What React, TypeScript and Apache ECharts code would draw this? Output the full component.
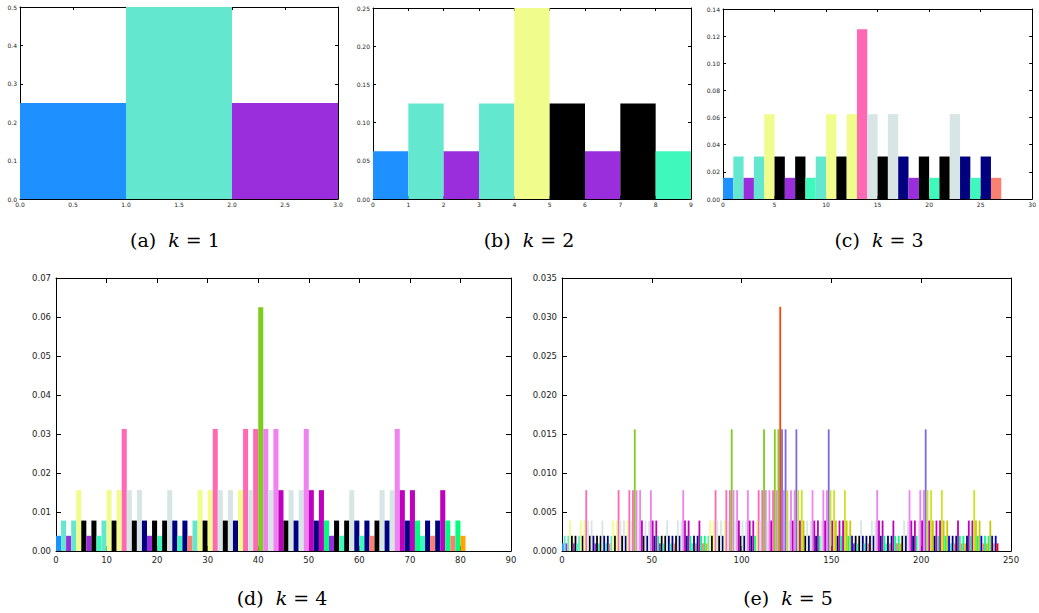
import React, { useEffect, useRef } from "react";
import * as echarts from "echarts";

// ---- data (bar heights, one bar per bin, bin i spans [i, i+1]) ----
const k1Values = [0.25, 0.5, 0.25];
const k2Values = [0.0625, 0.125, 0.0625, 0.125, 0.25, 0.125, 0.0625, 0.125, 0.0625];
const k3Values = [
  0.0156, 0.0313, 0.0156, 0.0313, 0.0625, 0.0313, 0.0156, 0.0313, 0.0156,
  0.0313, 0.0625, 0.0313, 0.0625, 0.125, 0.0625, 0.0313, 0.0625, 0.0313,
  0.0156, 0.0313, 0.0156, 0.0313, 0.0625, 0.0313, 0.0156, 0.0313, 0.0156,
];
const k4Values = [
  0.0039, 0.0078, 0.0039, 0.0078, 0.0156, 0.0078, 0.0039, 0.0078, 0.0039,
  0.0078, 0.0156, 0.0078, 0.0156, 0.0313, 0.0156, 0.0078, 0.0156, 0.0078,
  0.0039, 0.0078, 0.0039, 0.0078, 0.0156, 0.0078, 0.0039, 0.0078, 0.0039,
  0.0078, 0.0156, 0.0078, 0.0156, 0.0313, 0.0156, 0.0078, 0.0156, 0.0078,
  0.0156, 0.0313, 0.0156, 0.0313, 0.0625, 0.0313, 0.0156, 0.0313, 0.0156,
  0.0078, 0.0156, 0.0078, 0.0156, 0.0313, 0.0156, 0.0078, 0.0156, 0.0078,
  0.0039, 0.0078, 0.0039, 0.0078, 0.0156, 0.0078, 0.0039, 0.0078, 0.0039,
  0.0078, 0.0156, 0.0078, 0.0156, 0.0313, 0.0156, 0.0078, 0.0156, 0.0078,
  0.0039, 0.0078, 0.0039, 0.0078, 0.0156, 0.0078, 0.0039, 0.0078, 0.0039,
];
const k5Values = [
  // 0-26
  0.00098, 0.00195, 0.00098, 0.00195, 0.0039, 0.00195, 0.00098, 0.00195, 0.00098,
  0.00195, 0.0039, 0.00195, 0.0039, 0.0078, 0.0039, 0.00195, 0.0039, 0.00195,
  0.00098, 0.00195, 0.00098, 0.00195, 0.0039, 0.00195, 0.00098, 0.00195, 0.00098,
  // 27-53
  0.00195, 0.0039, 0.00195, 0.0039, 0.0078, 0.0039, 0.00195, 0.0039, 0.00195,
  0.0039, 0.0078, 0.0039, 0.0078, 0.0156, 0.0078, 0.0039, 0.0078, 0.0039,
  0.00195, 0.0039, 0.00195, 0.0039, 0.0078, 0.0039, 0.00195, 0.0039, 0.00195,
  // 54-80
  0.00098, 0.00195, 0.00098, 0.00195, 0.0039, 0.00195, 0.00098, 0.00195, 0.00098,
  0.00195, 0.0039, 0.00195, 0.0039, 0.0078, 0.0039, 0.00195, 0.0039, 0.00195,
  0.00098, 0.00195, 0.00098, 0.00195, 0.0039, 0.00195, 0.00098, 0.00195, 0.00098,
  // 81-107
  0.00195, 0.0039, 0.00195, 0.0039, 0.0078, 0.0039, 0.00195, 0.0039, 0.00195,
  0.0039, 0.0078, 0.0039, 0.0078, 0.0156, 0.0078, 0.0039, 0.0078, 0.0039,
  0.00195, 0.0039, 0.00195, 0.0039, 0.0078, 0.0039, 0.00195, 0.0039, 0.00195,
  // 108-134
  0.0039, 0.0078, 0.0039, 0.0078, 0.0156, 0.0078, 0.0039, 0.0078, 0.0039,
  0.0078, 0.0156, 0.0078, 0.0156, 0.0313, 0.0156, 0.0078, 0.0156, 0.0078,
  0.0039, 0.0078, 0.0039, 0.0078, 0.0156, 0.0078, 0.0039, 0.0078, 0.0039,
  // 135-161
  0.00195, 0.0039, 0.00195, 0.0039, 0.0078, 0.0039, 0.00195, 0.0039, 0.00195,
  0.0039, 0.0078, 0.0039, 0.0078, 0.0156, 0.0078, 0.0039, 0.0078, 0.0039,
  0.00195, 0.0039, 0.00195, 0.0039, 0.0078, 0.0039, 0.00195, 0.0039, 0.00195,
  // 162-188
  0.00098, 0.00195, 0.00098, 0.00195, 0.0039, 0.00195, 0.00098, 0.00195, 0.00098,
  0.00195, 0.0039, 0.00195, 0.0039, 0.0078, 0.0039, 0.00195, 0.0039, 0.00195,
  0.00098, 0.00195, 0.00098, 0.00195, 0.0039, 0.00195, 0.00098, 0.00195, 0.00098,
  // 189-215
  0.00195, 0.0039, 0.00195, 0.0039, 0.0078, 0.0039, 0.00195, 0.0039, 0.00195,
  0.0039, 0.0078, 0.0039, 0.0078, 0.0156, 0.0078, 0.0039, 0.0078, 0.0039,
  0.00195, 0.0039, 0.00195, 0.0039, 0.0078, 0.0039, 0.00195, 0.0039, 0.00195,
  // 216-242
  0.00098, 0.00195, 0.00098, 0.00195, 0.0039, 0.00195, 0.00098, 0.00195, 0.00098,
  0.00195, 0.0039, 0.00195, 0.0039, 0.0078, 0.0039, 0.00195, 0.0039, 0.00195,
  0.00098, 0.00195, 0.00098, 0.00195, 0.0039, 0.00195, 0.00098, 0.00195, 0.00098,
];

const captionLetters = ["a", "b", "c", "d", "e"];
const kLabels = [1, 2, 3, 4, 5];

// ---- styles ----
const palette = [
  "#1E90FF", "#63E8CF", "#9A2DDC", "#F0FC8C", "#000000", "#3FF8BB",
  "#FF69B4", "#D8E5E5", "#000080", "#FA8072", "#7ECC1E", "#EE82EE",
  "#BF00BF", "#00FF7F", "#FFA500", "#FF4500", "#7B68EE", "#C8E61C",
  "#C8C800", "#0000FF", "#FF0000",
];

function multisetKeys(k: number): string[] {
  const out: string[] = [];
  const rec = (prefix: number[], start: number) => {
    if (prefix.length === k) {
      out.push(prefix.join(""));
      return;
    }
    for (let d = start; d < 3; d++) {
      prefix.push(d);
      rec(prefix, d);
      prefix.pop();
    }
  };
  rec([], 0);
  return out;
}

function colorFor(i: number, k: number, keys: string[]): string {
  const digits: number[] = [];
  let n = i;
  for (let j = 0; j < k; j++) {
    digits.push(n % 3);
    n = Math.floor(n / 3);
  }
  digits.sort((a, b) => a - b);
  const idx = keys.indexOf(digits.join(""));
  return palette[idx % palette.length];
}

const panels = [
  { vals: k1Values, grid: { left: 20, top: 7, width: 318, height: 192 }, xMax: 3, xInt: 0.5, xDec: 1, yMax: 0.5, yInt: 0.1, yDec: 1, small: true, cap: [175, 240] },
  { vals: k2Values, grid: { left: 373, top: 8, width: 318, height: 191 }, xMax: 9, xInt: 1, xDec: 0, yMax: 0.25, yInt: 0.05, yDec: 2, small: true, cap: [529, 240] },
  { vals: k3Values, grid: { left: 723, top: 9, width: 315, height: 190 }, xMax: 30, xInt: 5, xDec: 0, yMax: 0.14, yInt: 0.02, yDec: 2, small: true, cap: [879, 240] },
  { vals: k4Values, grid: { left: 56, top: 278, width: 455, height: 273 }, xMax: 90, xInt: 10, xDec: 0, yMax: 0.07, yInt: 0.01, yDec: 2, small: false, cap: [282, 598] },
  { vals: k5Values, grid: { left: 562, top: 278, width: 449, height: 273 }, xMax: 250, xInt: 50, xDec: 0, yMax: 0.035, yInt: 0.005, yDec: 3, small: false, cap: [788, 598] },
];

function buildOption() {
  const grid: any[] = [];
  const xAxis: any[] = [];
  const yAxis: any[] = [];
  const series: any[] = [];
  const graphic: any[] = [];

  panels.forEach((p, pi) => {
    const k = kLabels[pi];
    const keys = multisetKeys(k);
    const fs = p.small ? 6 : 8.5;
    const tickLen = p.small ? 3 : 5;
    grid.push({ ...p.grid, containLabel: false });
    const lineStyle = { color: "#000", width: 1 };
    const tickBase = { show: true, inside: true, length: tickLen, lineStyle };
    xAxis.push({
      type: "value", gridIndex: pi, position: "bottom", min: 0, max: p.xMax, interval: p.xInt,
      axisLine: { show: true, onZero: false, lineStyle },
      axisTick: tickBase,
      splitLine: { show: false },
      axisLabel: {
        show: true, fontSize: fs, color: "#222", margin: p.small ? 2 : 4,
        fontFamily: "DejaVu Sans", showMinLabel: true, showMaxLabel: true,
        formatter: (v: number) => v.toFixed(p.xDec),
      },
    });
    xAxis.push({
      type: "value", gridIndex: pi, position: "top", min: 0, max: p.xMax, interval: p.xInt,
      axisLine: { show: true, onZero: false, lineStyle },
      axisTick: tickBase,
      splitLine: { show: false },
      axisLabel: { show: false },
    });
    yAxis.push({
      type: "value", gridIndex: pi, position: "left", min: 0, max: p.yMax, interval: p.yInt,
      axisLine: { show: true, onZero: false, lineStyle },
      axisTick: tickBase,
      splitLine: { show: false },
      axisLabel: {
        show: true, fontSize: fs, color: "#222", margin: p.small ? 3 : 5,
        fontFamily: "DejaVu Sans", showMinLabel: true, showMaxLabel: true,
        formatter: (v: number) => v.toFixed(p.yDec),
      },
    });
    yAxis.push({
      type: "value", gridIndex: pi, position: "right", min: 0, max: p.yMax, interval: p.yInt,
      axisLine: { show: true, onZero: false, lineStyle },
      axisTick: tickBase,
      splitLine: { show: false },
      axisLabel: { show: false },
    });
    series.push({
      type: "custom",
      xAxisIndex: pi * 2,
      yAxisIndex: pi * 2,
      encode: { x: 0, y: 1 },
      data: p.vals.map((v, i) => ({ value: [i, v], itemStyle: { color: colorFor(i, k, keys) } })),
      renderItem: (params: any, api: any) => {
        const i = api.value(0);
        const v = api.value(1);
        const a = api.coord([i, v]);
        const b = api.coord([i + 1, 0]);
        return {
          type: "rect",
          shape: { x: a[0], y: a[1], width: b[0] - a[0], height: b[1] - a[1] },
          style: { fill: api.visual("color") },
        };
      },
      z: 1,
    });
    graphic.push({
      type: "text",
      x: p.cap[0],
      y: p.cap[1],
      style: {
        text: `{n|(${captionLetters[pi]})  }{i|k}{n| = ${k}}`,
        align: "center",
        verticalAlign: "middle",
        rich: {
          n: { fontFamily: "DejaVu Serif", fontSize: 19, fill: "#000", fontWeight: "normal" },
          i: { fontFamily: "DejaVu Serif", fontSize: 19, fill: "#000", fontStyle: "italic" },
        },
      },
    });
  });

  return { animation: false, backgroundColor: "#fff", grid, xAxis, yAxis, series, graphic };
}

export default function App() {
  const ref = useRef<HTMLDivElement>(null);
  useEffect(() => {
    if (!ref.current) return;
    const chart = echarts.init(ref.current, undefined, { renderer: "svg" });
    chart.setOption(buildOption() as any);
    return () => chart.dispose();
  }, []);
  return (
    <div
      ref={ref}
      style={{ position: "absolute", left: 0, top: 0, width: 1039, height: 613, background: "#fff" }}
    />
  );
}
